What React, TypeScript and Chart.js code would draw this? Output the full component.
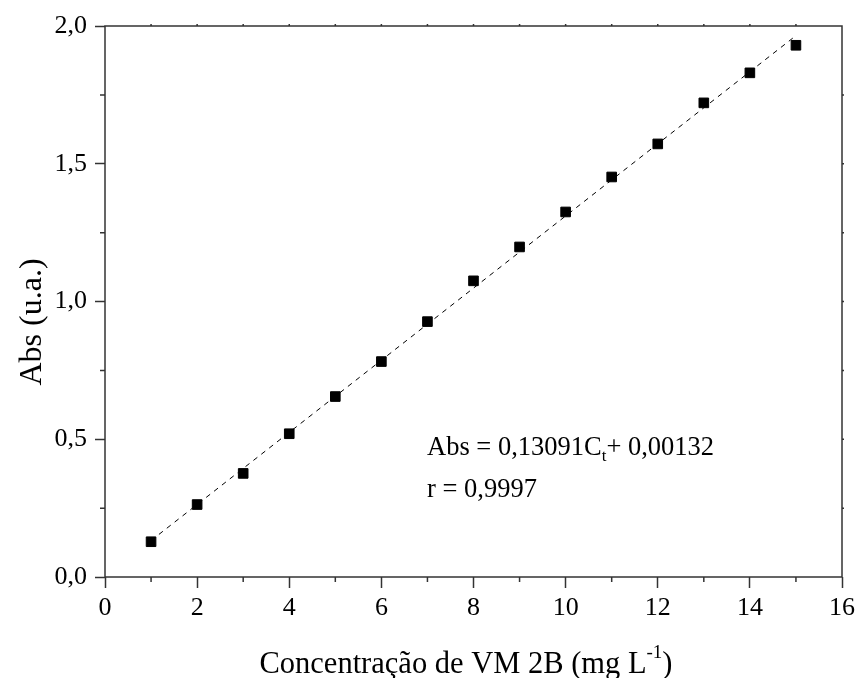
import React, { useEffect, useRef } from "react";
import { Chart, registerables } from "chart.js";

Chart.register(...registerables);

const concentrations = [1, 2, 3, 4, 5, 6, 7, 8, 9, 10, 11, 12, 13, 14, 15];
const absorbances = [0.128, 0.263, 0.376, 0.52, 0.655, 0.782, 0.927, 1.075, 1.198, 1.325, 1.452, 1.572, 1.721, 1.83, 1.93];
const fitSlope = 0.13091;
const fitIntercept = 0.00132;
const fitRange = [1, 15];
const xTickLabels = ["0", "2", "4", "6", "8", "10", "12", "14", "16"];
const yTickLabels = ["0,0", "0,5", "1,0", "1,5", "2,0"];
const xTitleMain = "Concentração de VM 2B (mg L";
const xTitleSup = "-1";
const xTitleEnd = ")";
const yTitle = "Abs (u.a.)";
const eqMain = "Abs = 0,13091C";
const eqSub = "t";
const eqEnd = "+ 0,00132";
const rText = "r = 0,9997";

const FONT = "'Liberation Serif', 'Times New Roman', serif";

const decorPlugin = {
  id: "decor",
  afterDraw(chart: any) {
    const ctx = chart.ctx;
    const { left, right, top, bottom } = chart.chartArea;
    const xs = chart.scales.x;
    const ys = chart.scales.y;
    ctx.save();
    // box
    ctx.strokeStyle = "#333";
    ctx.lineWidth = 1.5;
    ctx.strokeRect(left, top, right - left, bottom - top);
    // minor ticks
    ctx.beginPath();
    for (let v = 1; v < 16; v += 2) {
      const px = xs.getPixelForValue(v);
      ctx.moveTo(px, bottom);
      ctx.lineTo(px, bottom + 5);
    }
    for (let v = 0.25; v < 2; v += 0.5) {
      const py = ys.getPixelForValue(v);
      ctx.moveTo(left, py);
      ctx.lineTo(left - 5, py);
    }
    // mirrored tiny ticks
    for (let v = 1; v < 16; v += 1) {
      const px = xs.getPixelForValue(v);
      ctx.moveTo(px, top);
      ctx.lineTo(px, top - 2);
    }
    for (let v = 0.25; v < 2; v += 0.25) {
      const py = ys.getPixelForValue(v);
      ctx.moveTo(right, py);
      ctx.lineTo(right + 2, py);
    }
    ctx.stroke();

    ctx.fillStyle = "#000";
    ctx.textBaseline = "alphabetic";
    // x title
    const tf = 30.5;
    const sf = 19;
    ctx.font = `${tf}px ${FONT}`;
    const w1 = ctx.measureText(xTitleMain).width;
    ctx.font = `${sf}px ${FONT}`;
    const w2 = ctx.measureText(xTitleSup).width;
    ctx.font = `${tf}px ${FONT}`;
    const w3 = ctx.measureText(xTitleEnd).width;
    const total = w1 + w2 + w3;
    const x0 = 466 - total / 2;
    const by = 673;
    ctx.textAlign = "left";
    ctx.fillText(xTitleMain, x0, by);
    ctx.font = `${sf}px ${FONT}`;
    ctx.fillText(xTitleSup, x0 + w1, by - 15);
    ctx.font = `${tf}px ${FONT}`;
    ctx.fillText(xTitleEnd, x0 + w1 + w2, by);

    // y title
    ctx.save();
    ctx.translate(41, 322);
    ctx.rotate(-Math.PI / 2);
    ctx.font = `32px ${FONT}`;
    ctx.textAlign = "center";
    ctx.fillText(yTitle, 0, 0);
    ctx.restore();

    // equation
    const ex = 427;
    const ey = 455;
    const ef = 26.5;
    ctx.textAlign = "left";
    ctx.font = `${ef}px ${FONT}`;
    ctx.fillText(eqMain, ex, ey);
    const m1 = ctx.measureText(eqMain).width;
    ctx.font = `17px ${FONT}`;
    ctx.fillText(eqSub, ex + m1, ey + 6);
    const m2 = ctx.measureText(eqSub).width;
    ctx.font = `${ef}px ${FONT}`;
    ctx.fillText(eqEnd, ex + m1 + m2, ey);
    ctx.fillText(rText, ex, 497);
    ctx.restore();
  },
};

export default function App() {
  const ref = useRef<HTMLCanvasElement>(null);
  useEffect(() => {
    if (!ref.current) return;
    const points = concentrations.map((c, i) => ({ x: c, y: absorbances[i] }));
    const fit = fitRange.map((c) => ({ x: c, y: fitSlope * c + fitIntercept }));
    const chart = new Chart(ref.current, {
      type: "scatter",
      data: {
        datasets: [
          {
            type: "line",
            data: fit,
            borderColor: "#000",
            borderWidth: 1,
            borderDash: [5, 5],
            pointRadius: 0,
            fill: false,
          } as any,
          {
            data: points,
            pointStyle: "rect",
            pointRadius: 6.8,
            backgroundColor: "#000",
            borderColor: "#000",
            borderWidth: 1,
          },
        ],
      },
      options: {
        animation: false,
        responsive: false,
        layout: { padding: { top: 26, right: 15, left: 0, bottom: 0 } },
        plugins: { legend: { display: false }, tooltip: { enabled: false } },
        scales: {
          x: {
            type: "linear",
            min: 0,
            max: 16,
            border: { display: false },
            grid: { drawOnChartArea: false, tickLength: 11, tickWidth: 1.5, tickColor: "#333" },
            ticks: {
              stepSize: 2,
              color: "#000",
              font: { family: FONT, size: 26 },
              padding: 5,
              callback: (v: any) => xTickLabels[Math.round(Number(v) / 2)] ?? "",
            },
            afterFit: (s: any) => {
              s.height = 101;
              s.paddingRight = 0;
              s.paddingLeft = 0;
            },
          },
          y: {
            type: "linear",
            min: 0,
            max: 2,
            border: { display: false },
            grid: { drawOnChartArea: false, tickLength: 10, tickWidth: 1.5, tickColor: "#333" },
            ticks: {
              stepSize: 0.5,
              color: "#000",
              font: { family: FONT, size: 26 },
              padding: 8,
              callback: (v: any) => yTickLabels[Math.round(Number(v) * 2)] ?? "",
            },
            afterFit: (s: any) => {
              s.width = 105;
              s.paddingTop = 0;
              s.paddingBottom = 0;
            },
          },
        },
      },
      plugins: [decorPlugin],
    });
    return () => chart.destroy();
  }, []);
  return (
    <div style={{ position: "fixed", left: 0, top: 0, width: 857, height: 678, background: "#fff" }}>
      <canvas ref={ref} width={857} height={678} style={{ display: "block" }} />
    </div>
  );
}
